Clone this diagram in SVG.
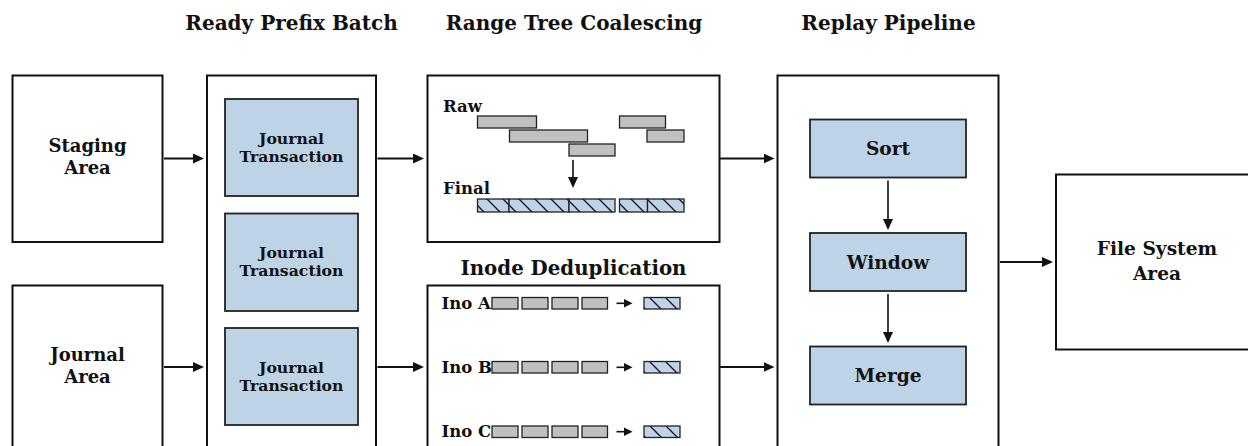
<svg xmlns="http://www.w3.org/2000/svg" width="1248" height="446" viewBox="0 0 1248 446">
<style>
text{font-family:"DejaVu Serif","Liberation Serif",serif;font-weight:bold;fill:#111;text-anchor:middle}
.title{font-size:20px}
.sub{font-size:19.8px}
.big{font-size:18px}
.blk{font-size:18.6px}
.mid{font-size:15.7px}
.sm{font-size:16.5px;text-anchor:start}
.box{fill:#fff;stroke:#111;stroke-width:2}
.inner{fill:#bed3e6;stroke:#222;stroke-width:1.8}
.bar{fill:#c0c0c0;stroke:#222;stroke-width:1.3}
.hb{fill:url(#hatch);stroke:#222;stroke-width:1.3}
.conn{stroke:#111;stroke-width:2;fill:none}
.thin{stroke:#111;stroke-width:1.6;fill:none}
</style>
<defs>
<marker id="ah" markerWidth="11" markerHeight="10" refX="5" refY="5" orient="auto" markerUnits="userSpaceOnUse"><path d="M0,0 L11,5 L0,10 z" fill="#111"/></marker>
<marker id="ahs" markerWidth="9" markerHeight="9" refX="4" refY="4.5" orient="auto" markerUnits="userSpaceOnUse"><path d="M0,0 L9,4.5 L0,9 z" fill="#111"/></marker>
<pattern id="hatch" patternUnits="userSpaceOnUse" width="16" height="16" x="0" y="0">
<rect width="16" height="16" fill="#bed3e6"/>
<path d="M-4,-4 L20,20 M-20,-4 L4,20 M12,-4 L36,20" stroke="#111" stroke-width="1.3"/>
</pattern>
</defs>

<g id="titles">
<text class="title" x="291.5" y="30">Ready Prefix Batch</text>
<text class="title" x="574" y="30">Range Tree Coalescing</text>
<text class="title" x="888.5" y="30">Replay Pipeline</text>
</g>

<g id="staging">
<rect class="box" x="12.5" y="75.5" width="150" height="166.5"/>
<text class="big" x="87.5" y="152">Staging</text>
<text class="big" x="87.5" y="174">Area</text>
</g>

<g id="journal-area">
<rect class="box" x="12.5" y="285.5" width="150" height="200"/>
<text class="big" x="87.5" y="361">Journal</text>
<text class="big" x="87.5" y="383">Area</text>
</g>

<g id="batch">
<rect class="box" x="207" y="75.5" width="169" height="400"/>
</g>
<g id="jt1">
<rect class="inner" x="225" y="99" width="133" height="97"/>
<text class="mid" x="291.5" y="143.5">Journal</text>
<text class="mid" x="291.5" y="161.5">Transaction</text>
</g>
<g id="jt2">
<rect class="inner" x="225" y="213.5" width="133" height="97.5"/>
<text class="mid" x="291.5" y="258">Journal</text>
<text class="mid" x="291.5" y="276">Transaction</text>
</g>
<g id="jt3">
<rect class="inner" x="225" y="328" width="133" height="97"/>
<text class="mid" x="291.5" y="372.5">Journal</text>
<text class="mid" x="291.5" y="390.5">Transaction</text>
</g>

<g id="range-tree">
<rect class="box" x="427.5" y="75.5" width="292" height="166.5"/>
<text class="sm" x="443" y="111.5">Raw</text>
<rect class="bar" x="477.5" y="116" width="59" height="12"/>
<rect class="bar" x="509.5" y="130" width="78" height="12"/>
<rect class="bar" x="569" y="144" width="46" height="12"/>
<rect class="bar" x="619.5" y="116" width="46" height="12"/>
<rect class="bar" x="647" y="130" width="37" height="12"/>
<text class="sm" x="443" y="194">Final</text>
<rect class="hb" x="477.5" y="199" width="31.5" height="13"/>
<rect class="hb" x="509" y="199" width="60" height="13"/>
<rect class="hb" x="569" y="199" width="46" height="13"/>
<rect class="hb" x="619.5" y="199" width="28" height="13"/>
<rect class="hb" x="647.5" y="199" width="36.5" height="13"/>
</g>

<g id="inode-dedup">
<text class="sub" x="573.5" y="275">Inode Deduplication</text>
<rect class="box" x="427.5" y="285.5" width="292" height="200"/>
<text class="sm" x="441.5" y="308.5">Ino A</text>
<rect class="bar" x="492" y="297.5" width="26" height="11.5"/>
<rect class="bar" x="522" y="297.5" width="26" height="11.5"/>
<rect class="bar" x="552" y="297.5" width="26" height="11.5"/>
<rect class="bar" x="582" y="297.5" width="25.5" height="11.5"/>
<rect class="hb" x="644" y="297.5" width="36" height="11.5"/>
<text class="sm" x="441.5" y="372.5">Ino B</text>
<rect class="bar" x="492" y="361.5" width="26" height="11.5"/>
<rect class="bar" x="522" y="361.5" width="26" height="11.5"/>
<rect class="bar" x="552" y="361.5" width="26" height="11.5"/>
<rect class="bar" x="582" y="361.5" width="25.5" height="11.5"/>
<rect class="hb" x="644" y="361.5" width="36" height="11.5"/>
<text class="sm" x="441.5" y="437">Ino C</text>
<rect class="bar" x="492" y="426" width="26" height="11.5"/>
<rect class="bar" x="522" y="426" width="26" height="11.5"/>
<rect class="bar" x="552" y="426" width="26" height="11.5"/>
<rect class="bar" x="582" y="426" width="25.5" height="11.5"/>
<rect class="hb" x="644" y="426" width="36" height="11.5"/>
</g>

<g id="replay">
<rect class="box" x="777.5" y="75.5" width="221" height="400"/>
</g>
<g id="sort">
<rect class="inner" x="810" y="119.5" width="156" height="58"/>
<text class="blk" x="888" y="155">Sort</text>
</g>
<g id="window">
<rect class="inner" x="810" y="233" width="156" height="58"/>
<text class="blk" x="888" y="268.5">Window</text>
</g>
<g id="merge">
<rect class="inner" x="810" y="346.5" width="156" height="58"/>
<text class="blk" x="888" y="382">Merge</text>
</g>

<g id="fs-area">
<rect class="box" x="1056" y="174.5" width="210" height="175"/>
<text class="blk" x="1157" y="255">File System</text>
<text class="blk" x="1157" y="280">Area</text>
</g>

<g id="connectors">
<line class="conn" x1="164" y1="158.5" x2="198" y2="158.5" marker-end="url(#ah)"/>
<line class="conn" x1="164" y1="367" x2="198" y2="367" marker-end="url(#ah)"/>
<line class="conn" x1="377.5" y1="158.5" x2="418" y2="158.5" marker-end="url(#ah)"/>
<line class="conn" x1="377.5" y1="367" x2="418" y2="367" marker-end="url(#ah)"/>
<line class="conn" x1="720" y1="158.5" x2="768.5" y2="158.5" marker-end="url(#ah)"/>
<line class="conn" x1="720" y1="367" x2="768.5" y2="367" marker-end="url(#ah)"/>
<line class="conn" x1="1000" y1="262" x2="1047" y2="262" marker-end="url(#ah)"/>
<line class="thin" x1="888" y1="180.5" x2="888" y2="224" marker-end="url(#ah)"/>
<line class="thin" x1="888" y1="294" x2="888" y2="337" marker-end="url(#ah)"/>
<line class="thin" x1="573" y1="160" x2="573" y2="182" marker-end="url(#ah)"/>
<line class="thin" x1="616.5" y1="303.3" x2="627.5" y2="303.3" marker-end="url(#ahs)"/>
<line class="thin" x1="616.5" y1="367.3" x2="627.5" y2="367.3" marker-end="url(#ahs)"/>
<line class="thin" x1="616.5" y1="431.7" x2="627.5" y2="431.7" marker-end="url(#ahs)"/>
</g>
</svg>
